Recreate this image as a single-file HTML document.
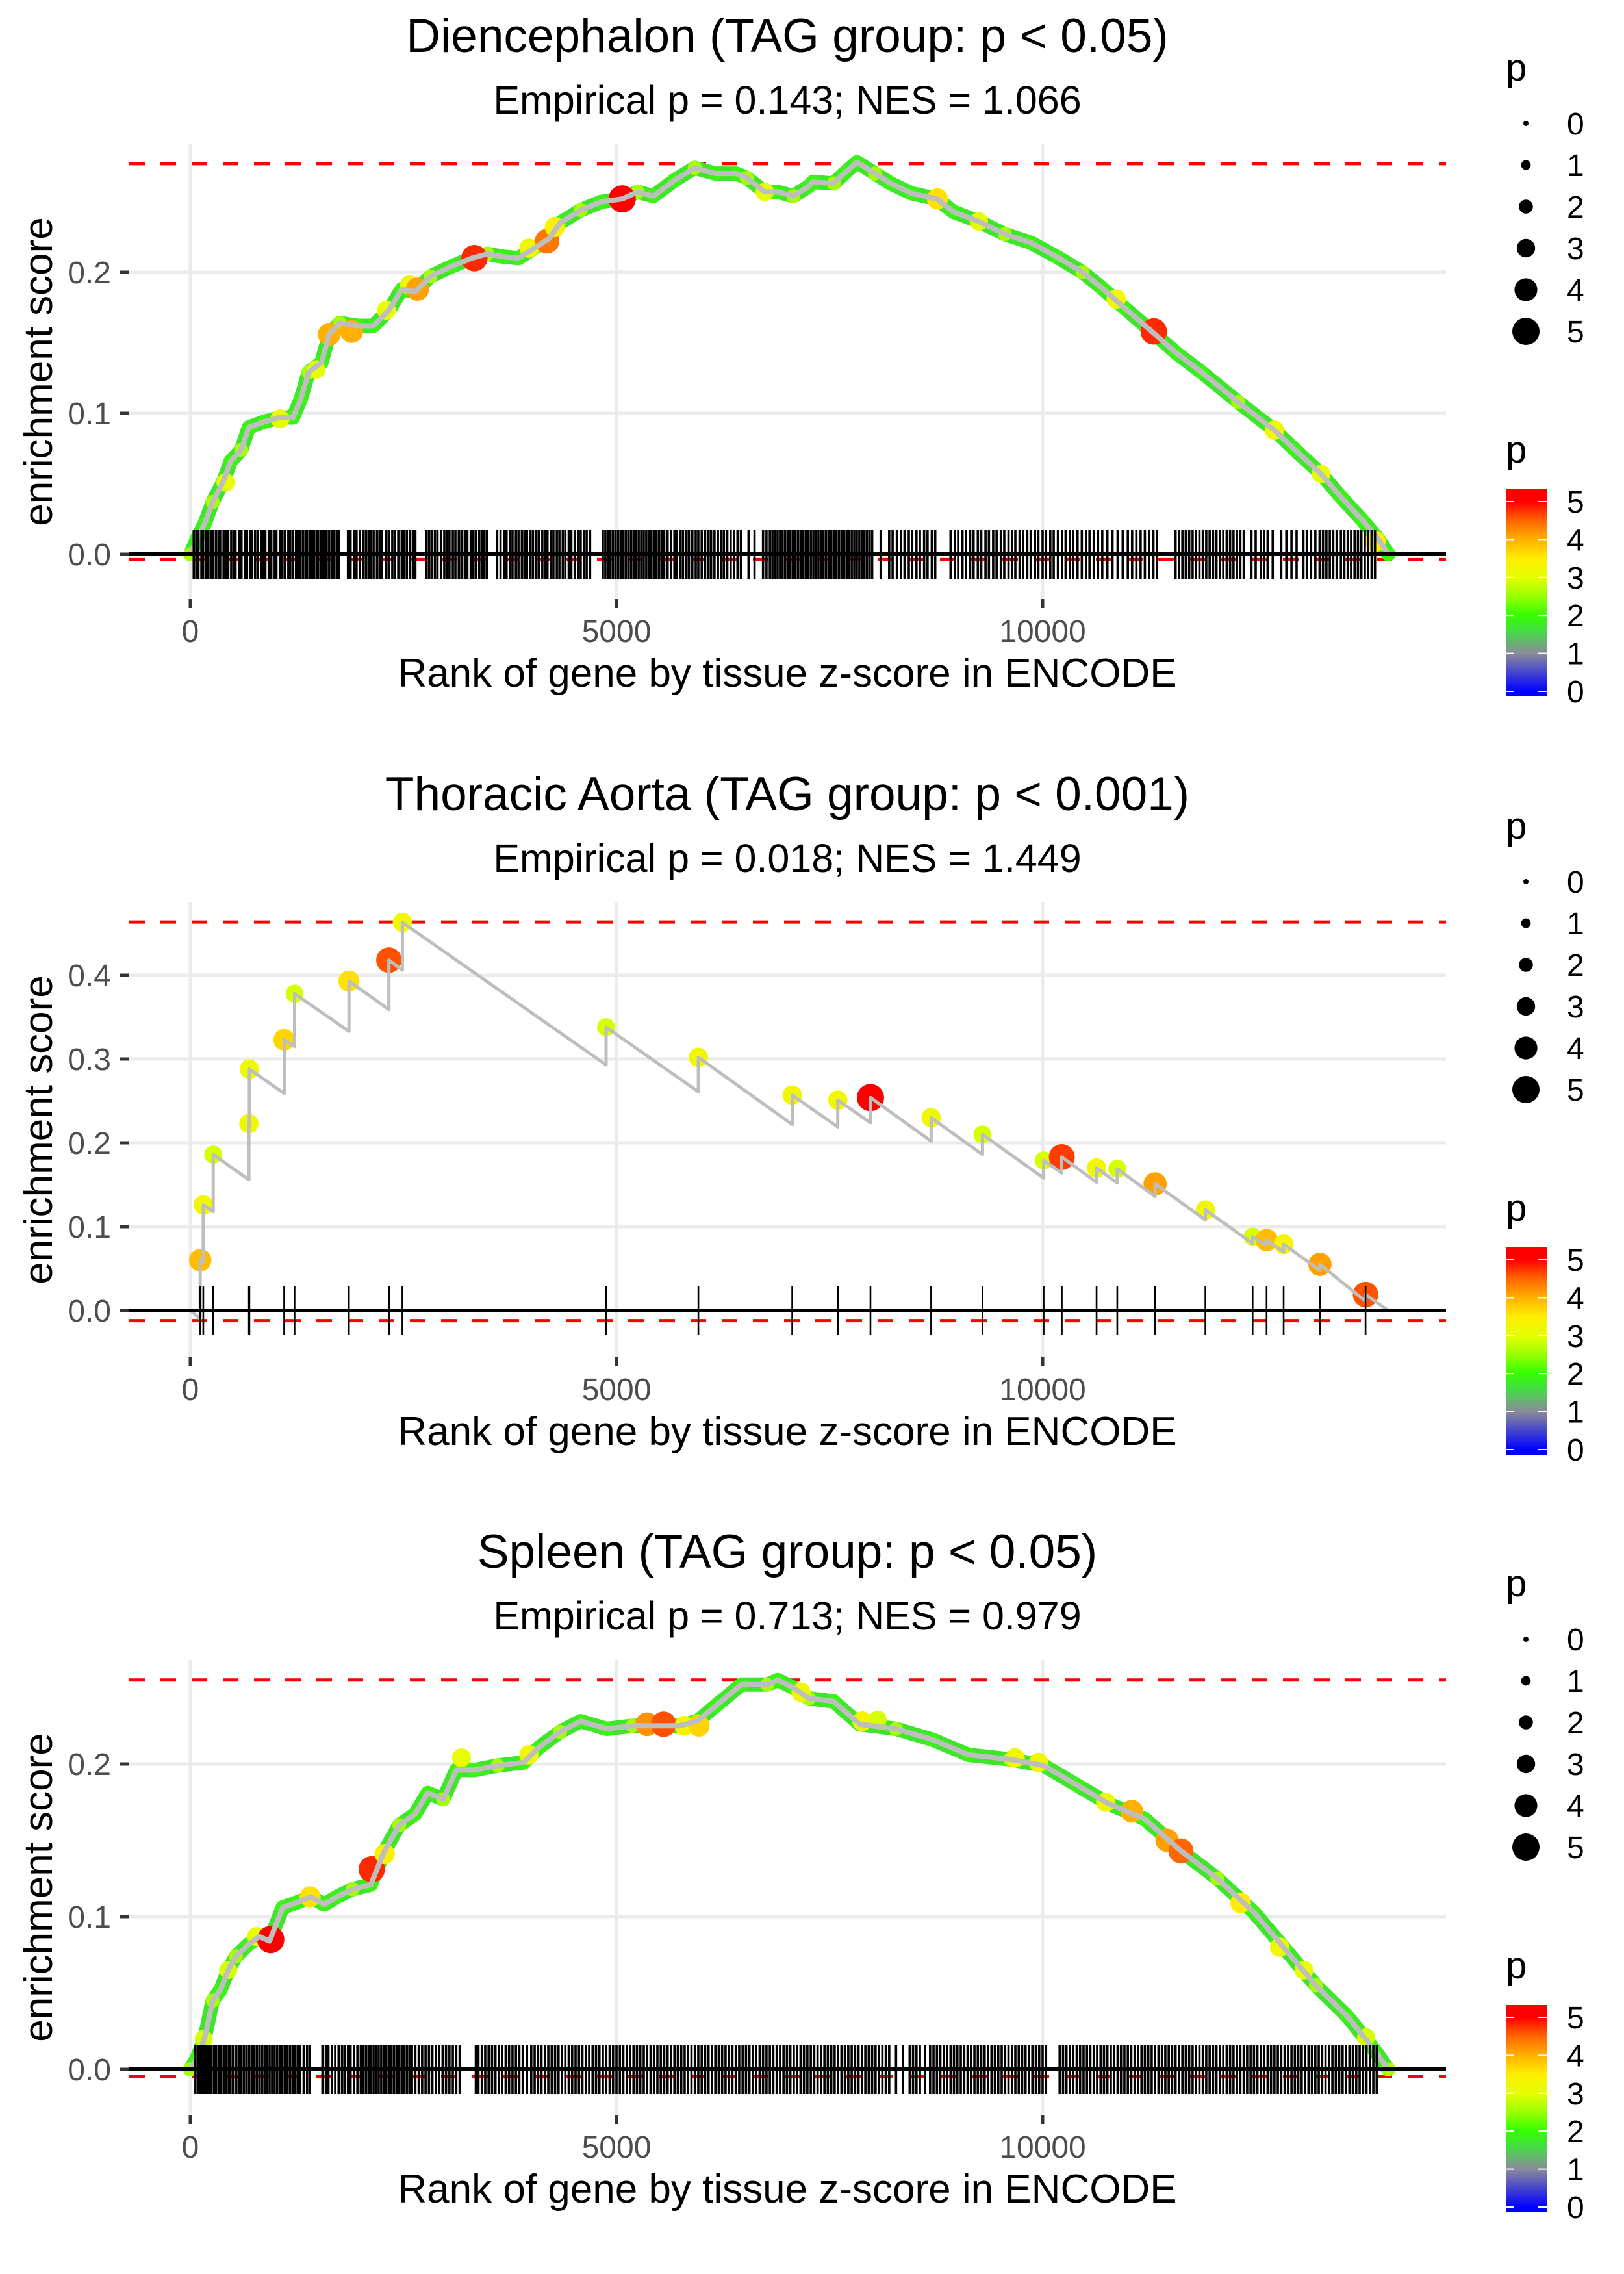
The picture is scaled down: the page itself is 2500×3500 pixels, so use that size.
<!DOCTYPE html>
<html><head><meta charset="utf-8"><style>
html,body{margin:0;padding:0;background:#fff;}
svg{display:block;font-family:"Liberation Sans",Arial,sans-serif;}
</style></head><body>
<svg id="chart" width="2500" height="3500" viewBox="0 0 2500 3500" xmlns="http://www.w3.org/2000/svg"></svg>
<script>
// ---------- Panel 1: Diencephalon ----------
const p1Titles = ["Diencephalon (TAG group: p < 0.05)", "Empirical p = 0.143; NES = 1.066"];
const p1YTicks = [0, 0.1, 0.2];
const p1YTickLabels = ["0.0", "0.1", "0.2"];
const p1CurveRank = [0,79,170,262,383,474,596,687,870,1052,1204,1296,1387,1539,1630,1752,1965,2147,2330,2482,2634,2816,3060,3303,3485,3668,3850,4033,4215,4337,4580,4824,5067,5249,5432,5675,5918,6162,6405,6527,6740,6892,7075,7257,7305,7549,7670,7822,8035,8218,8461,8765,8948,9252,9556,9860,10164,10469,10712,10955,11320,11563,11867,12293,12719,12962,13266,13509,13753,13935,14057];
const p1CurveES = [0,0.011,0.022,0.037,0.051,0.066,0.074,0.090,0.094,0.097,0.097,0.110,0.129,0.136,0.156,0.164,0.162,0.162,0.173,0.188,0.186,0.197,0.204,0.210,0.213,0.211,0.210,0.217,0.224,0.235,0.244,0.250,0.252,0.257,0.254,0.265,0.274,0.270,0.270,0.267,0.257,0.257,0.254,0.261,0.264,0.263,0.270,0.278,0.270,0.263,0.256,0.252,0.243,0.236,0.227,0.221,0.211,0.200,0.188,0.175,0.156,0.143,0.129,0.108,0.088,0.074,0.057,0.040,0.024,0.011,0];
const p1DotRank = [414,1052,1478,1630,1892,2300,2573,2664,3333,3972,4185,4276,5067,6740,8765,9252,10864,11304,12719,13266,13905];
const p1DotES = [0.051,0.096,0.131,0.156,0.158,0.173,0.191,0.188,0.210,0.217,0.222,0.232,0.252,0.257,0.252,0.236,0.181,0.158,0.088,0.057,0.009];
const p1DotP = [3.0,3.1,3.0,4.0,4.0,3.1,3.2,4.1,4.8,3.2,4.4,3.4,5.0,3.0,3.6,3.0,3.2,4.8,3.2,3.0,3.5];
const p1Rug = [40,70,95,130,150,185,210,240,265,300,330,350,390,420,445,480,510,530,570,600,640,665,700,720,760,790,830,850,880,920,950,990,1010,1050,1080,1110,1150,1170,1200,1240,1260,1290,1320,1350,1370,1400,1430,1450,1480,1500,1530,1560,1580,1600,1630,1660,1690,1720,1740,1850,1880,1920,1950,1990,2030,2060,2090,2120,2150,2190,2220,2250,2300,2330,2370,2400,2440,2480,2510,2540,2580,2620,2640,2770,2800,2830,2870,2900,2940,2980,3010,3040,3080,3110,3150,3180,3220,3250,3290,3320,3350,3390,3420,3450,3480,3600,3640,3680,3710,3750,3780,3820,3850,3890,3920,3950,3990,4020,4060,4090,4130,4160,4190,4230,4260,4300,4330,4370,4400,4440,4470,4510,4550,4580,4620,4650,4690,4840,4870,4900,4930,4960,4990,5020,5050,5080,5110,5140,5170,5200,5230,5260,5290,5320,5350,5380,5410,5440,5470,5500,5530,5560,5600,5640,5680,5710,5750,5780,5820,5850,5890,5930,5960,6000,6040,6080,6110,6150,6190,6230,6260,6300,6340,6380,6420,6460,6550,6620,6720,6760,6800,6830,6860,6890,6920,6950,6980,7010,7040,7070,7100,7130,7160,7190,7220,7250,7280,7310,7340,7370,7400,7430,7460,7490,7520,7550,7580,7610,7640,7670,7700,7730,7760,7790,7820,7850,7880,7910,7940,7970,8000,8100,8200,8240,8290,8340,8380,8430,8470,8520,8560,8610,8650,8700,8740,8920,8970,9010,9060,9100,9150,9190,9240,9280,9330,9370,9420,9460,9510,9550,9600,9640,9680,9730,9770,9820,9860,9910,9950,10000,10040,10090,10130,10180,10230,10270,10320,10360,10410,10460,10510,10550,10600,10650,10700,10760,10820,10880,10940,11000,11050,11100,11150,11200,11250,11300,11340,11560,11600,11640,11680,11720,11760,11800,11840,11880,11920,11960,12000,12040,12080,12120,12160,12200,12240,12280,12320,12360,12450,12500,12560,12600,12640,12700,12800,12860,12920,12980,13060,13100,13150,13200,13250,13290,13330,13370,13410,13450,13500,13540,13580,13620,13660,13700,13740,13780,13820,13860,13900];
const p1MaxES = 0.277, p1MinES = -0.002;

// ---------- Panel 2: Thoracic Aorta ----------
const p2Titles = ["Thoracic Aorta (TAG group: p < 0.001)", "Empirical p = 0.018; NES = 1.449"];
const p2YTicks = [0, 0.1, 0.2, 0.3, 0.4];
const p2YTickLabels = ["0.0", "0.1", "0.2", "0.3", "0.4"];
const p2HitRank = [116,152,268,687,693,1101,1223,1861,2330,2488,4878,5961,7062,7597,7980,8692,9294,10012,10225,10633,10876,11320,11910,12464,12628,12828,13254,13789];
const p2HitES = [0.060,0.126,0.186,0.223,0.288,0.323,0.378,0.393,0.418,0.463,0.338,0.302,0.257,0.251,0.254,0.230,0.210,0.179,0.183,0.170,0.169,0.151,0.120,0.088,0.084,0.079,0.055,0.019];
const p2HitP = [3.9,3.2,2.9,3.2,3.2,3.7,2.9,3.6,4.6,3.2,2.9,3.2,3.2,3.2,5.0,3.2,2.9,2.9,4.7,3.2,2.9,4.1,3.2,2.9,3.9,3.3,4.1,4.6];
const p2StepDrop = [0.010,0.003,0.008,0.030,0.000,0.029,0.008,0.045,0.034,0.012,0.170,0.077,0.080,0.038,0.027,0.052,0.044,0.052,0.015,0.030,0.018,0.033,0.043,0.040,0.010,0.014,0.031,0.044];
const p2EndRank = 14057;
const p2MaxES = 0.4635, p2MinES = -0.009;

// ---------- Panel 3: Spleen ----------
const p3Titles = ["Spleen (TAG group: p < 0.05)", "Empirical p = 0.713; NES = 0.979"];
const p3YTicks = [0, 0.1, 0.2];
const p3YTickLabels = ["0.0", "0.1", "0.2"];
const p3CurveRank = [0,79,170,262,353,444,535,687,809,930,1083,1235,1417,1569,1721,1904,2117,2269,2451,2634,2786,2968,3120,3333,3607,3911,4094,4337,4580,4884,5188,5493,5736,5949,6162,6466,6770,6892,7075,7257,7549,7853,8279,8704,9130,9617,10012,10407,10772,11198,11624,12050,12476,12841,13206,13571,13875,14057];
const p3CurveES = [0,0.0075,0.021,0.045,0.052,0.065,0.074,0.082,0.087,0.084,0.106,0.109,0.113,0.108,0.113,0.118,0.121,0.142,0.160,0.167,0.181,0.177,0.196,0.196,0.199,0.201,0.211,0.221,0.228,0.223,0.225,0.225,0.225,0.228,0.238,0.252,0.252,0.255,0.250,0.243,0.241,0.226,0.223,0.216,0.206,0.203,0.199,0.186,0.174,0.164,0.143,0.125,0.103,0.079,0.055,0.035,0.014,0];
const p3DotRank = [158,444,778,943,1405,2129,2281,3181,3972,5359,5553,5797,5967,7165,7883,8065,9678,9952,10741,11046,11460,11624,12324,12780,13066,13795];
const p3DotES = [0.020,0.065,0.087,0.085,0.113,0.131,0.141,0.204,0.206,0.226,0.226,0.225,0.225,0.247,0.228,0.229,0.204,0.201,0.175,0.169,0.150,0.143,0.109,0.080,0.065,0.021];
const p3DotP = [2.9,2.9,3.1,5.0,3.6,4.8,3.4,3.1,3.2,4.2,4.6,3.3,3.7,3.2,3.3,2.9,3.2,3.2,3.2,4.0,4.1,4.5,3.5,3.2,3.1,2.9];
const p3Rug = [60,90,110,130,150,170,190,210,230,250,280,300,330,360,390,420,450,470,500,540,570,600,630,660,690,720,750,780,810,840,870,900,930,960,990,1020,1050,1080,1110,1140,1170,1200,1230,1260,1290,1330,1370,1400,1550,1590,1620,1660,1700,1740,1780,1810,1850,1880,1920,1960,2000,2030,2060,2090,2120,2150,2180,2210,2240,2270,2300,2330,2360,2390,2420,2450,2480,2510,2540,2570,2600,2640,2680,2720,2760,2800,2840,2880,2920,2960,3000,3040,3080,3120,3160,3350,3380,3420,3460,3500,3540,3580,3620,3660,3700,3740,3780,3820,3860,3900,3950,4000,4040,4080,4120,4160,4200,4240,4280,4320,4360,4400,4440,4480,4520,4560,4600,4640,4680,4720,4760,4800,4840,4880,4920,4960,5000,5040,5080,5120,5160,5200,5240,5280,5320,5360,5400,5440,5480,5520,5560,5600,5640,5680,5720,5760,5800,5840,5880,5920,5960,6000,6040,6080,6120,6160,6200,6240,6280,6320,6360,6400,6440,6480,6520,6560,6600,6640,6680,6720,6760,6800,6840,6880,6920,6960,7000,7040,7080,7120,7160,7200,7240,7280,7320,7360,7400,7440,7480,7520,7560,7600,7640,7680,7720,7760,7800,7840,7880,7920,7960,8000,8040,8080,8120,8160,8200,8280,8360,8440,8480,8520,8560,8620,8680,8720,8760,8800,8840,8880,8920,8960,9000,9040,9080,9120,9160,9200,9240,9280,9320,9360,9400,9440,9480,9520,9560,9600,9640,9680,9720,9760,9800,9840,9880,9920,9960,10000,10040,10200,10240,10280,10320,10360,10400,10440,10480,10520,10560,10600,10640,10680,10720,10760,10800,10840,10880,10920,10960,11000,11040,11080,11120,11160,11200,11240,11280,11320,11360,11400,11440,11480,11520,11560,11600,11640,11680,11720,11760,11800,11840,11880,11920,11960,12000,12040,12080,12120,12160,12200,12240,12280,12320,12360,12400,12440,12480,12520,12560,12600,12640,12680,12720,12760,12800,12840,12880,12920,12960,13000,13040,13080,13120,13160,13200,13240,13280,13320,13360,13400,13440,13480,13520,13560,13600,13640,13680,13720,13760,13800,13840,13880,13920];
const p3MaxES = 0.255, p3MinES = -0.003;

const xTicks = [0, 5000, 10000];
const xTickLabels = ["0", "5000", "10000"];
const legendSizes = [0, 1, 2, 3, 4, 5];
const colorStopsP = [0, 1, 1.6, 2, 2.5, 3, 3.5, 4, 4.5, 5];
const colorStopsC = ["#0000ff","#8a8a9a","#44dd44","#33ff00","#99ff00","#e5ff00","#ffee00","#ffb000","#ff6600","#ff0000"];

const NS = "http://www.w3.org/2000/svg";
const svg = document.getElementById("chart");
function mk(tag, attrs, parent, text) {
  const e = document.createElementNS(NS, tag);
  for (const k in attrs) e.setAttribute(k, attrs[k]);
  if (text !== undefined) e.textContent = text;
  (parent || svg).appendChild(e);
  return e;
}
function hex(c){return [parseInt(c.substr(1,2),16),parseInt(c.substr(3,2),16),parseInt(c.substr(5,2),16)];}
function pColor(p){
  if (p <= colorStopsP[0]) return colorStopsC[0];
  for (let i=1;i<colorStopsP.length;i++){
    if (p <= colorStopsP[i]) {
      const t=(p-colorStopsP[i-1])/(colorStopsP[i]-colorStopsP[i-1]);
      const a=hex(colorStopsC[i-1]), b=hex(colorStopsC[i]);
      return "rgb("+a.map((v,j)=>Math.round(v+(b[j]-v)*t)).join(",")+")";
    }
  }
  return colorStopsC[colorStopsC.length-1];
}
function pRadius(p){ return 4 + 3.4*p; }

const X0 = 199, X1 = 2226;
function xScale(r){ return 293 + r*0.1312; }

function drawPanel(idx, off, titles, yZero, yUnit, yTicks, yLabels, maxES, minES) {
  const g = mk("g", {});
  
  
  const yS = v => yZero - v*yUnit;
  const top = 222 + off, bot = 921 + off;
  const grid = mk("g", {}, g);
  
  
  xTicks.forEach(t => mk("line",{x1:xScale(t),x2:xScale(t),y1:top,y2:bot,stroke:"#ebebeb","stroke-width":5},grid));
  yTicks.forEach(t => mk("line",{x1:X0,x2:X1,y1:yS(t),y2:yS(t),stroke:"#ebebeb","stroke-width":5},grid));
  const t1 = mk("text",{x:1212,y:80+off,"font-size":73,"text-anchor":"middle",fill:"#000"},g,titles[0]);
  
  
  const t2 = mk("text",{x:1212,y:175+off,"font-size":61,"text-anchor":"middle",fill:"#000"},g,titles[1]);
  
  
  const ya = mk("g",{},g);
  
  
  yTicks.forEach((t,i)=>{
    mk("line",{x1:185,x2:199,y1:yS(t),y2:yS(t),stroke:"#333","stroke-width":5},ya);
    const lb = mk("text",{x:171,y:yS(t)+17,"font-size":48,"text-anchor":"end",fill:"#4d4d4d"},ya,yLabels[i]);
    
    
  });
  const yt = mk("text",{x:0,y:0,"font-size":62,"text-anchor":"middle",fill:"#000",transform:"translate(80,"+(572+off)+") rotate(-90)"},ya,"enrichment score");
  
  
  const xa = mk("g",{},g);
  
  
  xTicks.forEach((t,i)=>{
    mk("line",{x1:xScale(t),x2:xScale(t),y1:922+off,y2:936+off,stroke:"#333","stroke-width":5},xa);
    const lb = mk("text",{x:xScale(t),y:988+off,"font-size":48,"text-anchor":"middle",fill:"#4d4d4d"},xa,xTickLabels[i]);
    
    
  });
  const xt = mk("text",{x:1212,y:1057+off,"font-size":62,"text-anchor":"middle",fill:"#000"},xa,"Rank of gene by tissue z-score in ENCODE");
  
  
  const dmax = mk("line",{x1:X0,x2:X1,y1:yS(maxES),y2:yS(maxES),stroke:"#ff0000","stroke-width":5,"stroke-dasharray":"24 24"},g);
  
  
  const dmin = mk("line",{x1:X0,x2:X1,y1:yS(minES)+4,y2:yS(minES)+4,stroke:"#ff0000","stroke-width":5,"stroke-dasharray":"24 24"},g);
  
  
  return {g, yS};
}

function drawRug(g, ranks, yZero, w){
  const rg = mk("g",{},g);
  
  
  ranks.forEach(r=>{
    const l = mk("line",{x1:xScale(r),x2:xScale(r),y1:yZero-38,y2:yZero+38,stroke:"#000","stroke-width":w},rg);
    
    
  });
}
function zeroLine(g, yZero){
  const z = mk("line",{x1:X0,x2:X1,y1:yZero,y2:yZero,stroke:"#000","stroke-width":6},g);
  
  
}
function drawDots(g, ranks, es, ps, yS){
  const dg = mk("g",{},g);
  
  
  ranks.forEach((r,i)=>{
    const c = mk("circle",{cx:xScale(r),cy:yS(es[i]),r:pRadius(ps[i]),fill:pColor(ps[i])},dg);
    
    
  });
}
function drawSmoothPanel(idx, off, titles, yZero, yUnit, yTicks, yLabels, maxES, minES, cr, ce, dr, de, dp, rug){
  const {g, yS} = drawPanel(idx, off, titles, yZero, yUnit, yTicks, yLabels, maxES, minES);
  const pts = cr.map((r,i)=>xScale(r).toFixed(1)+","+yS(ce[i]).toFixed(1)).join(" ");
  const gl = mk("polyline",{points:pts,fill:"none",stroke:"#3ee62a","stroke-width":22,"stroke-linejoin":"round","stroke-linecap":"round"},g);
  
  
  cr.forEach((r,i)=>{
    const c = mk("circle",{cx:xScale(r),cy:yS(ce[i]),r:pRadius(2),fill:pColor(i%3===0?2.6:1.9)},g);
    
    
  });
  drawDots(g, dr, de, dp, yS);
  const line = mk("polyline",{points:pts,fill:"none",stroke:"#bebebe","stroke-width":8,"stroke-linejoin":"round"},g);
  
  
  zeroLine(g, yZero);
  drawRug(g, rug, yZero, 3.6);
}
function drawLegend(off){
  const lg = mk("g",{});
  
  
  mk("text",{x:2318,y:124+off,"font-size":58,fill:"#000"},lg,"p");
  legendSizes.forEach((s,i)=>{
    const y = 190 + 64*i + off;
    const c = mk("circle",{cx:2349,cy:y,r:pRadius(s),fill:"#000"},lg);
    
    
    mk("text",{x:2412,y:y+17,"font-size":48,fill:"#000"},lg,String(s));
  });
  const cg = mk("g",{});
  
  
  mk("text",{x:2318,y:712+off,"font-size":58,fill:"#000"},cg,"p");
  const gid = "grad"+off;
  const defs = mk("defs",{},cg);
  const lgd = mk("linearGradient",{id:gid,x1:0,y1:1,x2:0,y2:0},defs);
  const b0 = 1064+off, b5 = 772+off, y0 = 753+off, y1 = 1072+off;
  colorStopsP.forEach((p,i)=>{
    const yy = b0 - p*(b0-b5)/5;
    mk("stop",{offset:((y1-yy)/(y1-y0)).toFixed(4),"stop-color":colorStopsC[i]},lgd);
  });
  const bar = mk("rect",{x:2318,y:y0,width:63,height:y1-y0,fill:"url(#"+gid+")"},cg);
  
  
  for (let v=0; v<=5; v++){
    const yy = b0 - v*(b0-b5)/5;
    mk("line",{x1:2318,x2:2331,y1:yy,y2:yy,stroke:"#fff","stroke-width":2},cg);
    mk("line",{x1:2368,x2:2381,y1:yy,y2:yy,stroke:"#fff","stroke-width":2},cg);
    mk("text",{x:2412,y:yy+17,"font-size":48,fill:"#000"},cg,String(v));
  }
}

drawSmoothPanel(0, 0, p1Titles, 853, 2170, p1YTicks, p1YTickLabels, p1MaxES, p1MinES, p1CurveRank, p1CurveES, p1DotRank, p1DotES, p1DotP, p1Rug);
drawLegend(0);

(function(){
  const {g, yS} = drawPanel(1, 1167, p2Titles, 2017, 1290, p2YTicks, p2YTickLabels, p2MaxES, p2MinES);
  drawDots(g, p2HitRank, p2HitES, p2HitP, yS);
  let pts = [[xScale(0), yS(0)]];
  p2HitRank.forEach((r,i)=>{
    const preVal = (i===0 ? -p2StepDrop[0] : p2HitES[i-1] - p2StepDrop[i]);
    pts.push([xScale(r), yS(preVal)]);
    pts.push([xScale(r), yS(p2HitES[i])]);
  });
  pts.push([xScale(p2EndRank), yS(0)]);
  const line = mk("polyline",{points:pts.map(p=>p[0].toFixed(1)+","+p[1].toFixed(1)).join(" "),fill:"none",stroke:"#bebebe","stroke-width":5,"stroke-linejoin":"round"},g);
  
  
  zeroLine(g, 2017);
  drawRug(g, p2HitRank, 2017, 2.6);
})();
drawLegend(1167);

drawSmoothPanel(2, 2333, p3Titles, 3185, 2350, p3YTicks, p3YTickLabels, p3MaxES, p3MinES, p3CurveRank, p3CurveES, p3DotRank, p3DotES, p3DotP, p3Rug);
drawLegend(2333);
</script>
</body></html>
